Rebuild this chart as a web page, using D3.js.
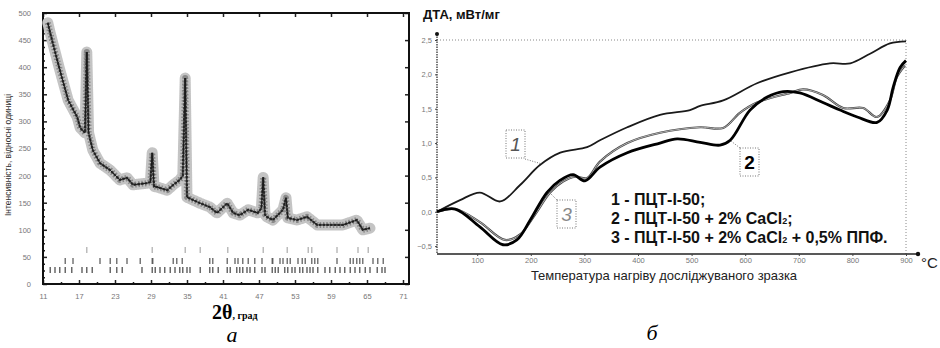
<!DOCTYPE html>
<html>
<head>
<meta charset="utf-8">
<script src="https://cdn.jsdelivr.net/npm/d3@7"></script>
<style>
  body { margin: 0; background: #fff; }
  svg { display: block; font-family: "Liberation Sans", Arial, sans-serif; }
  .tickLbl { font-size: 7.5px; fill: #777; }
</style>
</head>
<body>
<svg id="fig" width="940" height="348"></svg>
<script>
// ---- panel a: XRD pattern ----
const xrdTheta = [11.8, 12.2, 13.8, 15.2, 16.7, 17.2, 18.0, 18.3, 18.6, 19.3, 20.5, 22.2, 23.8, 25.0, 26.0, 28.3, 28.9, 29.2, 29.5, 30.0,
                  31.7, 32.7, 33.8, 34.3, 34.7, 35.0, 36.0, 37.2, 38.8, 40.0, 41.7, 42.7, 43.8, 45.2, 46.8, 47.4, 47.7, 48.0, 48.3, 49.3,
                  51.0, 51.5, 51.8, 53.3, 55.0, 56.7, 58.8, 61.0, 63.3, 64.3, 65.5];
const xrdIntensity = [482, 463, 395, 339, 308, 288, 279, 428, 279, 247, 223, 210, 192, 196, 183, 186, 188, 242, 180, 179,
                      173, 183, 192, 200, 380, 160, 155, 149, 142, 131, 149, 131, 127, 137, 131, 140, 197, 128, 124, 118,
                      137, 159, 122, 118, 124, 109, 109, 109, 118, 100, 103];
const braggRow0 = [18.3, 29.2, 34.7, 37.2, 41.8, 47.7, 51.7, 55.2, 55.8, 60.0, 63.5, 65.2];
const braggRow1 = [14.7, 16.0, 20.5, 22.2, 23.3, 25.0, 27.2, 29.2, 29.3, 32.7, 33.3, 34.2, 38.8, 39.3, 41.7, 43.0, 43.5, 44.3, 45.2, 46.3,
                   47.5, 49.2, 49.3, 50.5, 51.0, 51.7, 52.2, 53.5, 54.2, 54.7, 55.8, 56.3, 56.8, 60.0, 62.2, 62.7, 63.3, 63.8, 64.3, 66.0, 66.8, 67.7];
const braggRow2 = [12.2, 13.0, 13.8, 14.7, 15.8, 17.5, 18.3, 19.2, 22.2, 23.3, 24.2, 27.5, 29.2, 29.7, 30.5, 31.3, 32.2, 33.0, 33.8, 34.3,
                   35.0, 35.5, 37.2, 38.8, 39.3, 40.2, 41.7, 42.2, 43.3, 43.8, 44.3, 45.0, 45.5, 46.3, 47.5, 48.0, 49.2, 49.7, 50.2, 51.3,
                   51.8, 52.5, 53.0, 53.8, 54.3, 55.0, 55.5, 56.0, 56.8, 58.0, 58.8, 59.7, 60.5, 61.3, 62.2, 63.0, 63.8, 64.7, 65.5, 66.7, 67.5, 68.0];
const xrdXTicks = [11, 17, 23, 29, 35, 41, 47, 53, 59, 65, 71];
const xrdYTicks = [0, 50, 100, 150, 200, 250, 300, 350, 400, 450, 500];

// ---- panel б: DTA curves ----
const dta1T = [25, 68, 105, 143, 180, 217, 255, 305, 329, 380, 441, 497, 516, 559, 622, 684, 758, 796, 833, 870, 900];
const dta1V = [0, 0.17, 0.28, 0.15, 0.39, 0.68, 0.86, 0.94, 1.04, 1.23, 1.41, 1.48, 1.54, 1.62, 1.87, 2.03, 2.16, 2.16, 2.30, 2.45, 2.48];
const dta2T = [25, 59, 105, 148, 174, 199, 230, 255, 279, 301, 329, 380, 441, 473, 516, 553, 572, 609, 641, 671, 702, 745, 777, 809, 846, 865, 876, 889, 900];
const dta2V = [0, 0.04, -0.22, -0.48, -0.41, -0.12, 0.28, 0.46, 0.54, 0.45, 0.65, 0.86, 1.0, 1.06, 1.01, 0.97, 1.04, 1.48, 1.67, 1.75, 1.73, 1.59, 1.48, 1.38, 1.30, 1.48, 1.81, 2.10, 2.20];
const dta3T = [25, 59, 105, 152, 180, 208, 236, 260, 283, 305, 329, 380, 441, 516, 559, 590, 622, 684, 708, 745, 783, 820, 846, 870, 883, 898];
const dta3V = [0, 0.04, -0.15, -0.41, -0.33, -0.04, 0.28, 0.44, 0.51, 0.49, 0.73, 1.0, 1.15, 1.23, 1.22, 1.44, 1.59, 1.73, 1.78, 1.70, 1.51, 1.51, 1.38, 1.62, 1.96, 2.13];
const dtaXTicks = [100, 200, 300, 400, 500, 600, 700, 800, 900];
const dtaYTicks = [-0.5, 0, 0.5, 1, 1.5, 2, 2.5];
const legendLines = [
    ["1 - ПЦТ-І-50;"],
    ["2 - ПЦТ-І-50 + 2% CaCl", "2", ";"],
    ["3 - ПЦТ-І-50 + 2% CaCl", "2", " + 0,5% ППФ."]
];

const svg = d3.select("#fig");

function drawXrd() {
    const xs = d3.scaleLinear().domain([11, 72]).range([43, 409]);
    const ys = d3.scaleLinear().domain([0, 500]).range([284, 13]);
    const g = svg.append("g");

    // minor ticks
    const xMinor = xrdXTicks.slice(1).map((v, i) => (v + xrdXTicks[i]) / 2);
    const yMinor = [];
    xrdYTicks.slice(1).forEach((v, i) => { for (let k = 1; k < 4; k++) yMinor.push(xrdYTicks[i] + (v - xrdYTicks[i]) * k / 4); });

    const tickStyle = sel => { sel.select(".domain").remove(); sel.selectAll("line").attr("stroke", "#222").attr("stroke-width", 1.5); };

    g.append("g").attr("transform", "translate(0,284)")
        .call(d3.axisBottom(xs).tickValues(xrdXTicks).tickSize(-4).tickPadding(10).tickFormat(d3.format("d")))
        .call(tickStyle).call(s => s.selectAll("text").attr("class", "tickLbl"));
    g.append("g").attr("transform", "translate(0,284)")
        .call(d3.axisBottom(xs).tickValues(xMinor).tickSize(-2).tickFormat(""))
        .call(tickStyle);
    g.append("g").attr("transform", "translate(0,13)")
        .call(d3.axisTop(xs).tickValues(xrdXTicks).tickSize(-4).tickFormat(""))
        .call(tickStyle);
    g.append("g").attr("transform", "translate(43,0)")
        .call(d3.axisLeft(ys).tickValues(xrdYTicks).tickSize(-4).tickPadding(12).tickFormat(d3.format("d")))
        .call(tickStyle).call(s => s.selectAll("text").attr("class", "tickLbl"));
    g.append("g").attr("transform", "translate(43,0)")
        .call(d3.axisLeft(ys).tickValues(yMinor).tickSize(-2).tickFormat(""))
        .call(tickStyle);
    g.append("g").attr("transform", "translate(409,0)")
        .call(d3.axisRight(ys).tickValues(xrdYTicks).tickSize(-4).tickFormat(""))
        .call(tickStyle);

    g.append("rect").attr("x", 43).attr("y", 13).attr("width", 366).attr("height", 271)
        .attr("fill", "none").attr("stroke", "#111").attr("stroke-width", 2);

    const pts = xrdTheta.map((t, i) => [xs(t), ys(xrdIntensity[i])]);
    const line = d3.line();
    // scattered observed points look like a speckled grey band
    g.append("path").attr("d", line(pts)).attr("fill", "none")
        .attr("stroke", "#c4c4c4").attr("stroke-width", 11).attr("stroke-dasharray", "1.2,1")
        .attr("stroke-linejoin", "round").attr("stroke-linecap", "round");
    g.append("path").attr("d", line(pts)).attr("fill", "none")
        .attr("stroke", "#8a8a8a").attr("stroke-width", 6).attr("stroke-dasharray", "1.5,1.8")
        .attr("stroke-linejoin", "round");
    g.append("path").attr("d", line(pts)).attr("fill", "none")
        .attr("stroke", "#333").attr("stroke-width", 2.4).attr("stroke-dasharray", "2.5,1.2");
    g.append("path").attr("d", line(pts)).attr("fill", "none")
        .attr("stroke", "#1a1a1a").attr("stroke-width", 1);

    const rows = [[braggRow0, 247, 6, "#aaa"], [braggRow1, 258, 6, "#555"], [braggRow2, 267, 6, "#444"]];
    rows.forEach(([arr, y0, h, col]) => {
        g.append("g").selectAll("line").data(arr).enter().append("line")
            .attr("x1", d => xs(d)).attr("x2", d => xs(d))
            .attr("y1", y0).attr("y2", y0 + h)
            .attr("stroke", col).attr("stroke-width", 1.2);
    });

    svg.append("text").attr("transform", "translate(11,155) rotate(-90)")
        .attr("text-anchor", "middle").attr("font-size", 8.5).attr("fill", "#333")
        .text("Інтенсивність, відносні одиниці");

    const t = svg.append("text").attr("x", 212).attr("y", 319).attr("font-family", "Liberation Serif, serif").attr("font-weight", "bold");
    t.append("tspan").attr("font-size", 20).text("2θ");
    t.append("tspan").attr("font-size", 10).text(", град");

    svg.append("text").attr("x", 232).attr("y", 342).attr("text-anchor", "middle")
        .attr("font-family", "Liberation Serif, serif").attr("font-style", "italic").attr("font-size", 22).text("а");
}

function drawDta() {
    const xs = d3.scaleLinear().domain([25, 900]).range([437, 906]);
    const ys = d3.scaleLinear().domain([-0.6, 2.5]).range([253, 40]);
    const g = svg.append("g");

    // frame
    g.append("line").attr("x1", 437).attr("x2", 906).attr("y1", 40).attr("y2", 40)
        .attr("stroke", "#888").attr("stroke-dasharray", "1,2");
    g.append("line").attr("x1", 906).attr("x2", 906).attr("y1", 40).attr("y2", 254)
        .attr("stroke", "#888").attr("stroke-dasharray", "1,2");
    g.append("line").attr("x1", 437).attr("x2", 437).attr("y1", 34).attr("y2", 254)
        .attr("stroke", "#333").attr("stroke-width", 1.3).attr("stroke-dasharray", "1.5,1");
    g.append("line").attr("x1", 437).attr("x2", 918).attr("y1", 254).attr("y2", 254)
        .attr("stroke", "#222").attr("stroke-width", 1.6);
    g.append("circle").attr("cx", 437).attr("cy", 34).attr("r", 2).attr("fill", "#111");
    g.append("circle").attr("cx", 918).attr("cy", 254).attr("r", 2.2).attr("fill", "#111");

    const fmt = d => d3.format(".1f")(d).replace(".", ",").replace("-", "−");
    g.append("g").attr("transform", "translate(437,0)")
        .call(d3.axisLeft(ys).tickValues(dtaYTicks).tickSize(2).tickPadding(3).tickFormat(fmt))
        .call(s => s.select(".domain").remove())
        .call(s => s.selectAll("line").attr("stroke", "#444"))
        .call(s => s.selectAll("text").attr("class", "tickLbl").attr("font-size", 7));
    g.append("g").attr("transform", "translate(0,254)")
        .call(d3.axisBottom(xs).tickValues(dtaXTicks).tickSize(2).tickPadding(2).tickFormat(d3.format("d")))
        .call(s => s.select(".domain").remove())
        .call(s => s.selectAll("line").attr("stroke", "#444"))
        .call(s => s.selectAll("text").attr("class", "tickLbl").attr("font-size", 7));

    const line = d3.line().curve(d3.curveCatmullRom.alpha(0.5));
    const mk = (T, V) => T.map((t, i) => [xs(t), ys(V[i])]);
    g.append("path").attr("d", line(mk(dta1T, dta1V))).attr("fill", "none").attr("stroke", "#1a1a1a").attr("stroke-width", 1.8);
    g.append("path").attr("d", line(mk(dta3T, dta3V))).attr("fill", "none").attr("stroke", "#444").attr("stroke-width", 2.2);
    g.append("path").attr("d", line(mk(dta3T, dta3V))).attr("fill", "none").attr("stroke", "#ccc").attr("stroke-width", 0.8);
    g.append("path").attr("d", line(mk(dta2T, dta2V))).attr("fill", "none").attr("stroke", "#000").attr("stroke-width", 2.8);

    // numbered callouts
    const callouts = [
        { label: "1", bx: 506, by: 130, lx1: 525, ly1: 159, lx2: 542, ly2: 164, col: "#555", style: "italic", weight: "normal" },
        { label: "2", bx: 740, by: 148, lx1: 740, ly1: 148, lx2: 731, ly2: 141, col: "#000", style: "normal", weight: "bold" },
        { label: "3", bx: 557, by: 200, lx1: 557, ly1: 200, lx2: 548, ly2: 191, col: "#888", style: "italic", weight: "normal" }
    ];
    callouts.forEach(c => {
        g.append("rect").attr("x", c.bx).attr("y", c.by).attr("width", 19).attr("height", 28)
            .attr("fill", "#fff").attr("stroke", "#777").attr("stroke-dasharray", "1,1.5");
        g.append("line").attr("x1", c.lx1).attr("y1", c.ly1).attr("x2", c.lx2).attr("y2", c.ly2)
            .attr("stroke", "#777").attr("stroke-dasharray", "1,1.5");
        g.append("text").attr("x", c.bx + 9.5).attr("y", c.by + 21).attr("text-anchor", "middle")
            .attr("font-size", 19).attr("font-style", c.style).attr("font-weight", c.weight).attr("fill", c.col).text(c.label);
    });

    const leg = g.append("g").attr("font-size", 16).attr("font-weight", "bold").attr("fill", "#111");
    legendLines.forEach((parts, i) => {
        const t = leg.append("text").attr("x", 611).attr("y", 205 + i * 19);
        t.append("tspan").text(parts[0]);
        if (parts.length > 1) {
            t.append("tspan").attr("font-size", 9).attr("dy", 0).text(parts[1]);
            t.append("tspan").attr("dy", 0).text(parts[2]);
        }
    });

    svg.append("text").attr("x", 423).attr("y", 19).attr("font-size", 13).attr("font-weight", "bold").attr("fill", "#111")
        .text("ДТА, мВт/мг");
    svg.append("text").attr("x", 921).attr("y", 268).attr("font-size", 15).attr("fill", "#222").text("°C");
    svg.append("text").attr("x", 664).attr("y", 280).attr("text-anchor", "middle").attr("font-size", 13).attr("fill", "#222")
        .text("Температура нагріву досліджуваного зразка");
    svg.append("text").attr("x", 652).attr("y", 340).attr("text-anchor", "middle")
        .attr("font-family", "Liberation Serif, serif").attr("font-style", "italic").attr("font-size", 22).text("б");
}

drawXrd();
drawDta();
</script>
</body>
</html>
